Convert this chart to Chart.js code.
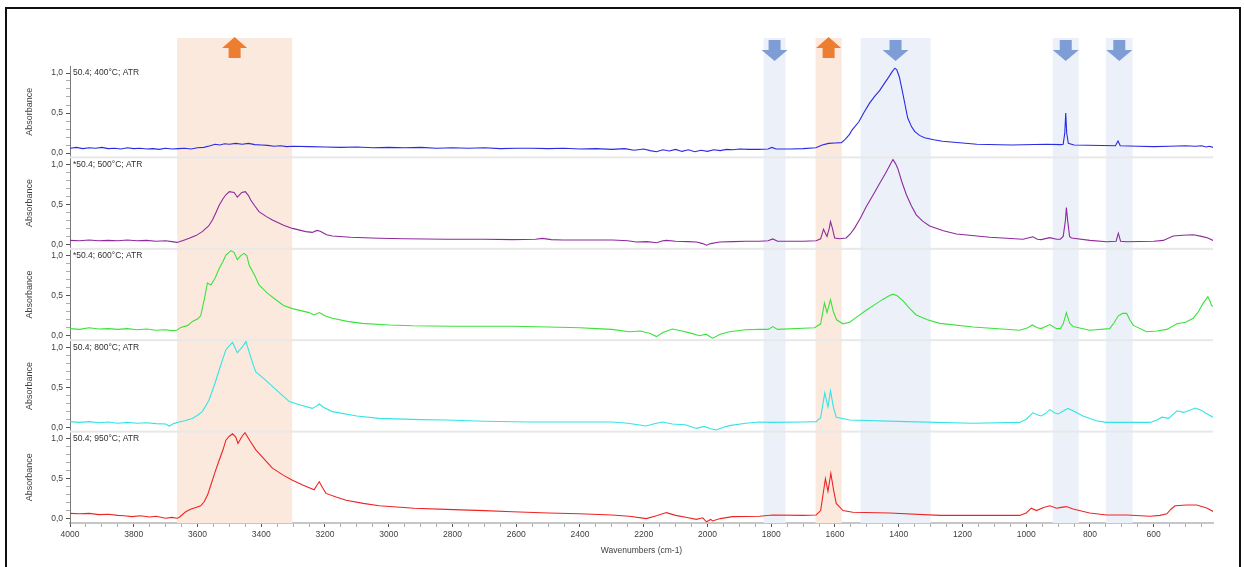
<!DOCTYPE html>
<html>
<head>
<meta charset="utf-8">
<script src="https://cdn.jsdelivr.net/npm/chart.js@4.4.0/dist/chart.umd.min.js"></script>
<style>
html, body { margin: 0; padding: 0; background: #fff; }
#wrap { position: relative; width: 1244px; height: 567px; overflow: hidden; }
#frame { position: absolute; left: 5px; top: 7px; width: 1232px; height: 600px; border: 2px solid #111; pointer-events: none; }
canvas { position: absolute; left: 0; top: 0; }
</style>
</head>
<body>
<div id="wrap">
  <canvas id="myChart" width="1244" height="567"></canvas>
  <div id="frame"></div>
</div>
<script>
// spectra: [wavenumber, absorbance]
var spec400 = [[4000,0.06],[3980,0.07],[3960,0.055],[3940,0.065],[3920,0.06],[3900,0.07],[3880,0.055],[3860,0.06],[3840,0.05],[3820,0.065],[3800,0.055],[3780,0.06],[3760,0.05],[3740,0.055],[3720,0.045],[3700,0.06],[3680,0.05],[3660,0.055],[3640,0.06],[3620,0.05],[3600,0.065],[3580,0.07],[3560,0.09],[3545,0.11],[3530,0.1],[3515,0.115],[3500,0.11],[3480,0.12],[3460,0.11],[3440,0.12],[3420,0.105],[3400,0.1],[3380,0.095],[3360,0.085],[3340,0.09],[3320,0.08],[3300,0.085],[3250,0.08],[3200,0.075],[3150,0.07],[3100,0.075],[3050,0.065],[3000,0.07],[2950,0.065],[2900,0.07],[2850,0.06],[2800,0.065],[2750,0.06],[2700,0.065],[2650,0.055],[2600,0.06],[2550,0.06],[2500,0.055],[2450,0.06],[2400,0.05],[2350,0.055],[2300,0.045],[2260,0.055],[2230,0.035],[2200,0.05],[2180,0.03],[2160,0.015],[2140,0.04],[2120,0.025],[2100,0.045],[2080,0.02],[2060,0.04],[2040,0.015],[2020,0.035],[2000,0.02],[1980,0.04],[1960,0.03],[1940,0.045],[1920,0.04],[1900,0.05],[1870,0.045],[1840,0.045],[1810,0.05],[1798,0.07],[1785,0.05],[1740,0.05],[1700,0.055],[1660,0.065],[1640,0.1],[1620,0.12],[1600,0.125],[1580,0.13],[1568,0.17],[1555,0.23],[1546,0.29],[1525,0.39],[1510,0.5],[1492,0.62],[1475,0.71],[1460,0.78],[1445,0.87],[1432,0.945],[1420,1.02],[1412,1.06],[1406,1.04],[1398,0.95],[1388,0.76],[1380,0.6],[1372,0.44],[1360,0.33],[1350,0.27],[1335,0.22],[1319,0.19],[1290,0.165],[1263,0.146],[1200,0.125],[1155,0.11],[1045,0.1],[937,0.11],[893,0.105],[884,0.11],[879,0.25],[876,0.5],[873,0.25],[868,0.12],[850,0.1],[720,0.09],[712,0.15],[705,0.09],[650,0.085],[600,0.08],[550,0.085],[500,0.09],[470,0.085],[450,0.09],[435,0.075],[425,0.085],[414,0.07]];

var spec500 = [[4000,0.05],[3970,0.045],[3940,0.055],[3910,0.045],[3880,0.05],[3850,0.045],[3820,0.055],[3790,0.045],[3760,0.05],[3730,0.04],[3700,0.045],[3680,0.035],[3664,0.025],[3645,0.05],[3626,0.076],[3605,0.11],[3585,0.16],[3565,0.23],[3553,0.305],[3542,0.4],[3532,0.49],[3520,0.57],[3511,0.62],[3500,0.66],[3485,0.65],[3475,0.59],[3461,0.65],[3450,0.66],[3440,0.61],[3433,0.555],[3420,0.48],[3407,0.41],[3385,0.35],[3365,0.305],[3330,0.24],[3302,0.2],[3260,0.16],[3240,0.15],[3225,0.175],[3215,0.165],[3195,0.12],[3177,0.105],[3120,0.09],[3030,0.076],[2950,0.07],[2820,0.065],[2700,0.065],[2612,0.06],[2540,0.065],[2518,0.075],[2490,0.06],[2455,0.055],[2380,0.055],[2298,0.055],[2250,0.045],[2223,0.03],[2190,0.035],[2160,0.02],[2140,0.045],[2129,0.05],[2100,0.04],[2060,0.035],[2034,0.03],[2015,0.01],[2003,-0.01],[1990,0.01],[1962,0.03],[1920,0.035],[1880,0.04],[1837,0.04],[1810,0.045],[1795,0.068],[1780,0.04],[1700,0.04],[1659,0.045],[1645,0.07],[1636,0.19],[1630,0.14],[1625,0.1],[1618,0.2],[1614,0.285],[1608,0.2],[1601,0.08],[1586,0.07],[1565,0.08],[1552,0.13],[1539,0.2],[1520,0.33],[1502,0.47],[1480,0.62],[1460,0.76],[1440,0.9],[1425,1.01],[1418,1.06],[1410,1.01],[1403,0.95],[1390,0.78],[1376,0.62],[1360,0.48],[1345,0.37],[1325,0.29],[1303,0.23],[1260,0.17],[1219,0.13],[1114,0.09],[1010,0.065],[985,0.09],[979,0.095],[965,0.065],[953,0.06],[926,0.085],[905,0.065],[893,0.065],[884,0.1],[877,0.3],[874,0.46],[870,0.3],[864,0.1],[858,0.08],[800,0.05],[748,0.034],[718,0.04],[711,0.14],[704,0.04],[685,0.034],[600,0.04],[570,0.05],[539,0.105],[510,0.115],[476,0.12],[450,0.1],[430,0.08],[414,0.05]];

var spec600 = [[4000,0.09],[3970,0.08],[3940,0.1],[3910,0.085],[3880,0.09],[3850,0.08],[3820,0.09],[3790,0.075],[3760,0.085],[3730,0.07],[3700,0.075],[3680,0.065],[3665,0.07],[3652,0.105],[3630,0.13],[3616,0.18],[3600,0.21],[3590,0.25],[3579,0.45],[3569,0.66],[3558,0.635],[3545,0.72],[3532,0.84],[3520,0.93],[3511,1.01],[3495,1.065],[3485,1.04],[3475,0.95],[3465,1.0],[3454,1.03],[3445,1.0],[3438,0.885],[3420,0.75],[3407,0.635],[3380,0.53],[3354,0.45],[3330,0.38],[3302,0.34],[3250,0.29],[3235,0.26],[3218,0.29],[3200,0.25],[3177,0.22],[3130,0.18],[3083,0.155],[3000,0.135],[2926,0.125],[2800,0.12],[2700,0.12],[2612,0.12],[2500,0.11],[2400,0.1],[2349,0.09],[2300,0.08],[2245,0.05],[2210,0.06],[2180,0.03],[2160,-0.01],[2140,0.04],[2110,0.085],[2080,0.06],[2050,0.03],[2025,0.0],[2005,0.02],[1984,-0.03],[1960,0.02],[1931,0.05],[1880,0.075],[1837,0.08],[1810,0.08],[1795,0.115],[1780,0.08],[1700,0.095],[1664,0.1],[1645,0.15],[1633,0.41],[1625,0.29],[1614,0.45],[1605,0.3],[1595,0.2],[1575,0.15],[1554,0.17],[1530,0.24],[1502,0.32],[1475,0.39],[1450,0.455],[1430,0.5],[1418,0.52],[1405,0.5],[1387,0.44],[1365,0.34],[1345,0.26],[1310,0.2],[1271,0.155],[1167,0.11],[1020,0.07],[995,0.1],[981,0.135],[965,0.1],[953,0.09],[926,0.14],[905,0.09],[893,0.09],[884,0.15],[874,0.29],[864,0.16],[853,0.115],[801,0.07],[738,0.09],[725,0.16],[711,0.25],[698,0.28],[685,0.28],[675,0.2],[664,0.13],[622,0.05],[590,0.06],[559,0.08],[527,0.15],[500,0.17],[476,0.22],[460,0.3],[445,0.405],[430,0.49],[422,0.42],[419,0.38],[414,0.37]];

var spec800 = [[4000,0.07],[3970,0.06],[3940,0.07],[3910,0.055],[3880,0.065],[3850,0.05],[3820,0.06],[3790,0.05],[3760,0.055],[3730,0.045],[3700,0.04],[3689,0.015],[3675,0.045],[3658,0.065],[3640,0.08],[3616,0.11],[3600,0.15],[3585,0.195],[3575,0.26],[3564,0.34],[3555,0.44],[3545,0.55],[3532,0.715],[3520,0.86],[3511,0.965],[3500,1.02],[3490,1.06],[3475,0.93],[3460,1.0],[3448,1.07],[3435,0.9],[3425,0.78],[3417,0.69],[3390,0.6],[3365,0.51],[3340,0.42],[3312,0.32],[3280,0.28],[3240,0.235],[3228,0.26],[3218,0.29],[3205,0.25],[3177,0.195],[3100,0.14],[3030,0.11],[2900,0.095],[2820,0.09],[2700,0.075],[2559,0.065],[2400,0.065],[2298,0.065],[2250,0.05],[2192,0.015],[2170,0.04],[2141,0.065],[2110,0.04],[2070,0.03],[2035,-0.015],[2010,0.01],[1990,-0.02],[1972,-0.035],[1950,0.0],[1931,0.02],[1880,0.05],[1837,0.065],[1800,0.06],[1700,0.065],[1659,0.07],[1645,0.12],[1632,0.43],[1622,0.255],[1614,0.455],[1605,0.25],[1596,0.125],[1554,0.09],[1376,0.07],[1167,0.05],[1020,0.06],[1000,0.1],[979,0.18],[965,0.155],[953,0.14],[940,0.17],[926,0.22],[912,0.18],[900,0.165],[885,0.2],[869,0.235],[850,0.2],[822,0.14],[780,0.08],[748,0.06],[611,0.06],[590,0.09],[574,0.125],[553,0.11],[527,0.205],[506,0.185],[485,0.215],[469,0.24],[450,0.21],[432,0.165],[414,0.125]];

var spec950 = [[4000,0.065],[3970,0.06],[3940,0.065],[3909,0.05],[3880,0.055],[3850,0.04],[3830,0.035],[3805,0.025],[3780,0.035],[3750,0.02],[3730,0.03],[3700,0.005],[3680,0.015],[3665,0.005],[3658,0.015],[3637,0.085],[3620,0.12],[3605,0.14],[3590,0.16],[3579,0.21],[3568,0.3],[3558,0.42],[3545,0.58],[3532,0.73],[3520,0.86],[3511,0.98],[3500,1.03],[3490,1.06],[3480,1.02],[3473,0.94],[3460,1.03],[3451,1.075],[3435,0.97],[3417,0.86],[3390,0.74],[3365,0.63],[3330,0.54],[3302,0.48],[3270,0.42],[3234,0.36],[3225,0.42],[3218,0.46],[3208,0.39],[3197,0.315],[3165,0.27],[3134,0.23],[3080,0.19],[3030,0.16],[2920,0.13],[2820,0.115],[2700,0.1],[2612,0.085],[2500,0.07],[2402,0.06],[2300,0.045],[2245,0.03],[2192,0.0],[2160,0.035],[2129,0.075],[2100,0.04],[2060,0.01],[2035,-0.01],[2015,0.01],[2003,-0.04],[1990,-0.01],[1984,-0.03],[1960,0.0],[1921,0.025],[1837,0.03],[1795,0.045],[1700,0.04],[1659,0.045],[1645,0.1],[1630,0.5],[1622,0.34],[1613,0.565],[1604,0.35],[1596,0.19],[1575,0.1],[1544,0.08],[1429,0.07],[1271,0.04],[1020,0.04],[1000,0.07],[984,0.13],[968,0.1],[945,0.14],[926,0.16],[905,0.13],[890,0.14],[874,0.15],[853,0.12],[801,0.07],[748,0.045],[685,0.045],[611,0.03],[580,0.04],[559,0.06],[545,0.12],[533,0.16],[496,0.17],[465,0.17],[432,0.13],[414,0.09]];

var panelLabels = ['50.4; 400°C; ATR', '*50.4; 500°C; ATR', '*50.4; 600°C; ATR', '50.4; 800°C; ATR', '50.4; 950°C; ATR'];
var panelColors = ['#2a2ae2', '#8e2a9c', '#3be23b', '#33e4e4', '#ee2424'];
var panelData = [spec400, spec500, spec600, spec800, spec950];

// x axis
var xMin = 414, xMax = 4000;
var xTickLabels = [4000, 3800, 3600, 3400, 3200, 3000, 2800, 2600, 2400, 2200, 2000, 1800, 1600, 1400, 1200, 1000, 800, 600];
var xMinorStep = 50;
// y axis (each panel)
var yMajorTicks = [0, 0.5, 1.0];
var yMinorStep = 0.1;

// marked bands (wavenumbers) and arrow direction
var bandFrom  = [3664, 1824, 1661, 1520, 917, 750];
var bandTo    = [3303, 1755, 1579, 1300, 835, 666];
var bandArrow = ['up', 'down', 'up', 'down', 'down', 'down'];

var FONT = "'Liberation Sans', Arial, sans-serif";

document.addEventListener("DOMContentLoaded", main);

function main(){
  var xTicks = [];
  for (var v = xMax; v >= 450; v -= xMinorStep) xTicks.push(v);
  var yTicks = [];
  for (var i = 0; i <= 10; i++) yTicks.push(Math.round(i * yMinorStep * 10) / 10);

  var scales = {
    x: {
      type: 'linear', reverse: true, min: xMin, max: xMax,
      afterBuildTicks: function(s){ s.ticks = xTicks.map(function(v){ return {value: v}; }); },
      afterFit: function(s){ s.height = 44; },
      ticks: {
        autoSkip: false, maxRotation: 0, padding: 3, color: '#404040',
        font: {family: FONT, size: 8.5},
        callback: function(v){ return xTickLabels.indexOf(v) >= 0 ? String(v) : ''; }
      },
      grid: {
        drawOnChartArea: false, tickLength: 4,
        tickColor: function(ctx){ return ctx.tick && xTickLabels.indexOf(ctx.tick.value) >= 0 ? '#555' : '#aaa'; }
      },
      border: {color: '#c6c6c6', width: 2},
      title: {display: true, text: 'Wavenumbers (cm-1)', color: '#404040', font: {family: FONT, size: 8.5}, padding: {top: 0, bottom: 11}}
    }
  };

  var datasets = [];
  for (var p = 0; p < 5; p++) {
    var id = 'y' + p;
    scales[id] = {
      type: 'linear', position: 'left', stack: 'panels', stackWeight: 1, weight: 5 - p,
      min: -0.055, max: 1.0875,
      afterBuildTicks: function(s){ s.ticks = yTicks.map(function(v){ return {value: v}; }); },
      afterFit: function(s){ s.width = 50; },
      ticks: {
        autoSkip: false, padding: 3, color: '#404040', font: {family: FONT, size: 8.5},
        callback: function(v){
          return yMajorTicks.indexOf(v) >= 0 ? v.toFixed(1).replace('.', ',') : '';
        }
      },
      grid: {
        drawOnChartArea: false, tickLength: 4,
        tickColor: function(ctx){ return ctx.tick && yMajorTicks.indexOf(ctx.tick.value) >= 0 ? '#555' : '#aaa'; }
      },
      border: {color: '#7a7a7a', width: 1},
      title: {display: true, text: 'Absorbance', color: '#404040', font: {family: FONT, size: 9}, padding: {top: 4, bottom: 0}}
    };
    datasets.push({
      label: panelLabels[p],
      data: panelData[p].map(function(d){ return {x: d[0], y: d[1]}; }),
      yAxisID: id,
      borderColor: panelColors[p],
      borderWidth: 1.1,
      pointRadius: 0,
      tension: 0,
      fill: false
    });
  }

  renderChart(datasets, scales);
}

var bandsPlugin = {
  id: 'bands',
  beforeDatasetsDraw: function(chart){
    var ctx = chart.ctx, xs = chart.scales.x, area = chart.chartArea;
    ctx.save();
    for (var i = 0; i < bandFrom.length; i++) {
      var a = xs.getPixelForValue(bandFrom[i]), b = xs.getPixelForValue(bandTo[i]);
      ctx.fillStyle = bandArrow[i] === 'up' ? '#fce9de' : '#ecf1f9';
      ctx.fillRect(a, 38, b - a, area.bottom - 38);
    }
    // panel dividers
    ctx.fillStyle = '#e8e8e8';
    for (var p = 0; p < 4; p++) {
      var s = chart.scales['y' + p];
      ctx.fillRect(area.left, s.bottom - 1, area.right - area.left, 2);
    }
    ctx.restore();
  },
  afterDraw: function(chart){
    var ctx = chart.ctx, xs = chart.scales.x;
    ctx.save();
    for (var i = 0; i < bandFrom.length; i++) {
      var cx = (xs.getPixelForValue(bandFrom[i]) + xs.getPixelForValue(bandTo[i])) / 2;
      ctx.beginPath();
      if (bandArrow[i] === 'up') {
        ctx.fillStyle = '#ed7d31';
        ctx.moveTo(cx, 37); ctx.lineTo(cx + 12.5, 48); ctx.lineTo(cx + 6, 48);
        ctx.lineTo(cx + 6, 58); ctx.lineTo(cx - 6, 58); ctx.lineTo(cx - 6, 48);
        ctx.lineTo(cx - 12.5, 48);
      } else {
        ctx.fillStyle = '#7f9dd5';
        ctx.moveTo(cx - 6, 40); ctx.lineTo(cx + 6, 40); ctx.lineTo(cx + 6, 50);
        ctx.lineTo(cx + 13, 50); ctx.lineTo(cx, 61); ctx.lineTo(cx - 13, 50);
        ctx.lineTo(cx - 6, 50);
      }
      ctx.closePath();
      ctx.fill();
    }
    // panel captions
    ctx.fillStyle = '#303030';
    ctx.font = '8.5px ' + FONT;
    ctx.textBaseline = 'middle';
    ctx.textAlign = 'left';
    for (var p = 0; p < 5; p++) {
      var s = chart.scales['y' + p];
      ctx.fillText(panelLabels[p], chart.chartArea.left + 3, s.getPixelForValue(1.0));
    }
    ctx.restore();
  }
};

function renderChart(datasets, scales){
  var ctx = document.getElementById("myChart").getContext('2d');
  var myChart = new Chart(ctx, {
    type: 'line',
    data: {datasets: datasets},
    options: {
      responsive: false,
      animation: false,
      devicePixelRatio: 1,
      layout: {padding: {left: 20, right: 31, top: 66, bottom: 0}},
      plugins: {legend: {display: false}, tooltip: {enabled: false}},
      scales: scales
    },
    plugins: [bandsPlugin]
  });
}
</script>
</body>
</html>
